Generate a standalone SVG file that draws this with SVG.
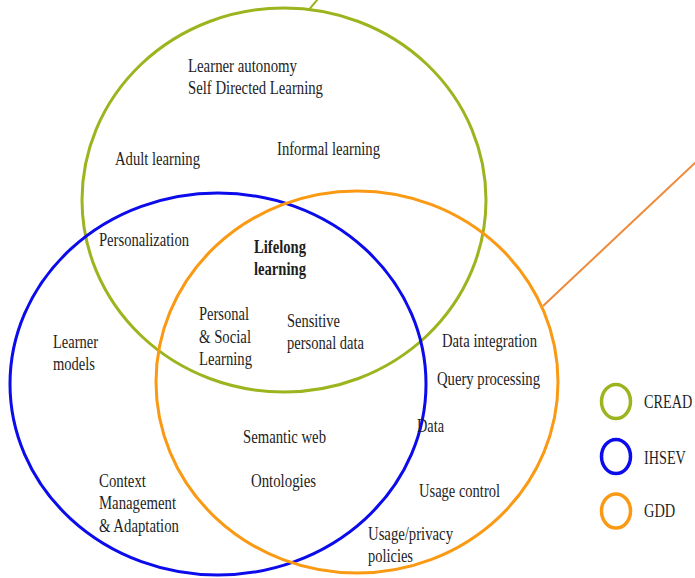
<svg xmlns="http://www.w3.org/2000/svg" width="695" height="578" viewBox="0 0 695 578">
<style>
.c{fill:none;stroke-width:3}
.g{stroke:#9DB41F}
.b{stroke:#0B0BEB}
.o{stroke:#FA9A14}
.lg{fill:none;stroke-width:3.5}
text{font-family:"Liberation Serif","Times New Roman",serif;font-size:18px;fill:#1e1e1e}
.bd{font-weight:bold}
</style>
<rect width="695" height="578" fill="#fff"/>
<g id="connectors">
<line x1="309.5" y1="9" x2="318" y2="-1" stroke="#9DB41F" stroke-width="2"/>
<line x1="543" y1="306" x2="696" y2="162" stroke="#EE8A3A" stroke-width="2"/>
</g>
<g id="cread"><ellipse class="c g" cx="284" cy="200" rx="202" ry="192"/></g>
<g id="ihsev"><ellipse class="c b" cx="218" cy="384" rx="208" ry="191"/></g>
<g id="gdd"><ellipse class="c o" cx="357" cy="382" rx="201" ry="191"/></g>
<g id="labels">
<text x="188" y="72" textLength="109" lengthAdjust="spacingAndGlyphs">Learner autonomy</text>
<text x="188" y="94" textLength="135" lengthAdjust="spacingAndGlyphs">Self Directed Learning</text>
<text x="277" y="155" textLength="103" lengthAdjust="spacingAndGlyphs">Informal learning</text>
<text x="115" y="165" textLength="85" lengthAdjust="spacingAndGlyphs">Adult learning</text>
<text x="99" y="246" textLength="90" lengthAdjust="spacingAndGlyphs">Personalization</text>
<text class="bd" x="254" y="253" textLength="52" lengthAdjust="spacingAndGlyphs">Lifelong</text>
<text class="bd" x="254" y="275" textLength="52" lengthAdjust="spacingAndGlyphs">learning</text>
<text x="199" y="320" textLength="50" lengthAdjust="spacingAndGlyphs">Personal</text>
<text x="199" y="343" textLength="52" lengthAdjust="spacingAndGlyphs">&amp; Social</text>
<text x="199" y="365" textLength="53" lengthAdjust="spacingAndGlyphs">Learning</text>
<text x="287" y="327" textLength="53" lengthAdjust="spacingAndGlyphs">Sensitive</text>
<text x="287" y="349" textLength="77" lengthAdjust="spacingAndGlyphs">personal data</text>
<text x="53" y="348" textLength="45" lengthAdjust="spacingAndGlyphs">Learner</text>
<text x="53" y="370" textLength="42" lengthAdjust="spacingAndGlyphs">models</text>
<text x="243" y="443" textLength="83" lengthAdjust="spacingAndGlyphs">Semantic web</text>
<text x="251" y="487" textLength="65" lengthAdjust="spacingAndGlyphs">Ontologies</text>
<text x="99" y="487" textLength="47" lengthAdjust="spacingAndGlyphs">Context</text>
<text x="99" y="509" textLength="77" lengthAdjust="spacingAndGlyphs">Management</text>
<text x="99" y="532" textLength="80" lengthAdjust="spacingAndGlyphs">&amp; Adaptation</text>
<text x="417" y="432" textLength="27" lengthAdjust="spacingAndGlyphs">Data</text>
<text x="368" y="540" textLength="85" lengthAdjust="spacingAndGlyphs">Usage/privacy</text>
<text x="368" y="562" textLength="45" lengthAdjust="spacingAndGlyphs">policies</text>
<text x="442" y="347" textLength="95" lengthAdjust="spacingAndGlyphs">Data integration</text>
<text x="437" y="385" textLength="103" lengthAdjust="spacingAndGlyphs">Query processing</text>
<text x="419" y="497" textLength="81" lengthAdjust="spacingAndGlyphs">Usage control</text>
</g>
<g id="legend">
<g id="legend-cread"><ellipse class="lg g" cx="616" cy="401.5" rx="14.5" ry="17"/><text transform="translate(644 408) scale(0.79 1)">CREAD</text></g>
<g id="legend-ihsev"><ellipse class="lg b" cx="616" cy="456.5" rx="14.5" ry="17"/><text transform="translate(644 464) scale(0.79 1)">IHSEV</text></g>
<g id="legend-gdd"><ellipse class="lg o" cx="616" cy="511" rx="14.5" ry="17"/><text transform="translate(644 517) scale(0.8 1)">GDD</text></g>
</g>
</svg>
